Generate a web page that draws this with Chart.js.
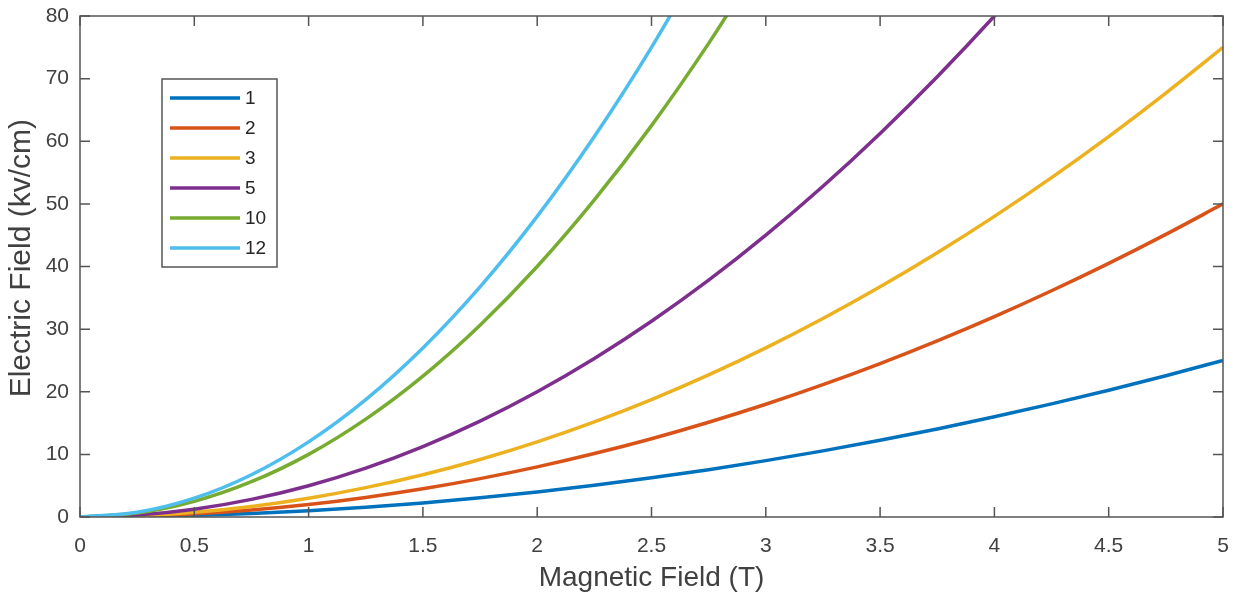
<!DOCTYPE html>
<html>
<head>
    <title>Electric Field vs Magnetic Field</title>
    <script src="https://cdn.jsdelivr.net/npm/chart.js"></script>
    <style>
        html, body { margin: 0; padding: 0; background: #fff; }
        #wrap { width: 1237px; height: 595px; }
    </style>
</head>
<body>

<div id="wrap">
    <canvas id="fieldChart" width="1237" height="595"></canvas>
</div>

<script>
    // Magnetic field (T), sampled every 0.25 T
    const fieldB = [0, 0.25, 0.5, 0.75, 1, 1.25, 1.5, 1.75, 2, 2.25, 2.5,
                    2.75, 3, 3.25, 3.5, 3.75, 4, 4.25, 4.5, 4.75, 5];

    // Electric field (kv/cm)
    const curve1  = [0, 0.06, 0.25, 0.56, 1, 1.56, 2.25, 3.06, 4, 5.06, 6.25,
                     7.56, 9, 10.56, 12.25, 14.06, 16, 18.06, 20.25, 22.56, 25];
    const curve2  = [0, 0.13, 0.5, 1.13, 2, 3.13, 4.5, 6.13, 8, 10.13, 12.5,
                     15.13, 18, 21.13, 24.5, 28.13, 32, 36.13, 40.5, 45.13, 50];
    const curve3  = [0, 0.19, 0.75, 1.69, 3, 4.69, 6.75, 9.19, 12, 15.19, 18.75,
                     22.69, 27, 31.69, 36.75, 42.19, 48, 54.19, 60.75, 67.69, 75];
    const curve5  = [0, 0.31, 1.25, 2.81, 5, 7.81, 11.25, 15.31, 20, 25.31, 31.25,
                     37.81, 45, 52.81, 61.25, 70.31, 80, 90.31];
    const curve10 = [0, 0.63, 2.5, 5.63, 10, 15.63, 22.5, 30.63, 40, 50.63, 62.5,
                     75.63, 90];
    const curve12 = [0, 0.75, 3, 6.75, 12, 18.75, 27, 36.75, 48, 60.75, 75,
                     90.75];

    const seriesLabels = ['1', '2', '3', '5', '10', '12'];
    const seriesValues = [curve1, curve2, curve3, curve5, curve10, curve12];
    const seriesColors = ['#0072BD', '#D95319', '#EDB120', '#7E2F8E', '#77AC30', '#4DBEEE'];

    const xTicksStep = 0.5;
    const yTicksStep = 10;

    const textColor = '#404040';
    const frameColor = '#555555';
    const fontFamily = '"Liberation Sans", Arial, sans-serif';

    // MATLAB style box with inward ticks on all four sides
    const boxPlugin = {
        id: 'matlabBox',
        afterDatasetsDraw(chart) {
            const {ctx, chartArea: a, scales: {x, y}} = chart;
            const len = 10;
            ctx.save();
            ctx.strokeStyle = frameColor;
            ctx.lineWidth = 1.5;
            ctx.strokeRect(a.left, a.top, a.right - a.left, a.bottom - a.top);
            ctx.beginPath();
            x.ticks.forEach(t => {
                const px = x.getPixelForValue(t.value);
                ctx.moveTo(px, a.bottom); ctx.lineTo(px, a.bottom - len);
                ctx.moveTo(px, a.top); ctx.lineTo(px, a.top + len);
            });
            y.ticks.forEach(t => {
                const py = y.getPixelForValue(t.value);
                ctx.moveTo(a.left, py); ctx.lineTo(a.left + len, py);
                ctx.moveTo(a.right, py); ctx.lineTo(a.right - len, py);
            });
            ctx.stroke();
            ctx.restore();
        },
        // legend box inside the axes, top left
        afterDraw(chart) {
            const {ctx} = chart;
            const left = 162, top = 79, w = 115, h = 188;
            ctx.save();
            ctx.fillStyle = '#fff';
            ctx.fillRect(left, top, w, h);
            ctx.strokeStyle = frameColor;
            ctx.lineWidth = 1.5;
            ctx.strokeRect(left, top, w, h);
            ctx.font = '19px ' + fontFamily;
            ctx.textBaseline = 'middle';
            chart.data.datasets.forEach((ds, i) => {
                const cy = top + 19 + i * 30;
                ctx.strokeStyle = ds.borderColor;
                ctx.lineWidth = 3.5;
                ctx.beginPath();
                ctx.moveTo(left + 8, cy);
                ctx.lineTo(left + 78, cy);
                ctx.stroke();
                ctx.fillStyle = '#262626';
                ctx.fillText(ds.label, left + 83, cy + 1);
            });
            ctx.restore();
        }
    };

    const datasets = seriesValues.map((vals, i) => ({
        label: seriesLabels[i],
        data: vals.map((v, j) => ({x: fieldB[j], y: v})),
        borderColor: seriesColors[i],
        backgroundColor: seriesColors[i],
        borderWidth: 3.5,
        pointRadius: 0,
        cubicInterpolationMode: 'monotone',
        clip: 0,
        order: -i
    }));

    new Chart(document.getElementById('fieldChart'), {
        type: 'line',
        data: {datasets: datasets},
        plugins: [boxPlugin],
        options: {
            responsive: false,
            animation: false,
            layout: {padding: {left: 0, top: 16, right: 14, bottom: 0}},
            plugins: {
                legend: {display: false},
                tooltip: {enabled: false}
            },
            scales: {
                x: {
                    type: 'linear',
                    min: 0,
                    max: 5,
                    grid: {display: false, drawTicks: false},
                    border: {display: false},
                    ticks: {
                        stepSize: xTicksStep,
                        padding: 17,
                        color: textColor,
                        maxRotation: 0,
                        font: {family: fontFamily, size: 21},
                        callback: v => String(Math.round(v * 10) / 10)
                    },
                    title: {
                        display: true,
                        text: 'Magnetic Field (T)',
                        color: textColor,
                        padding: {top: 0, bottom: 3},
                        font: {family: fontFamily, size: 28, lineHeight: 1}
                    },
                    afterFit(scale) {
                        scale.height = 78;
                        scale.paddingLeft = 0;
                        scale.paddingRight = 0;
                    }
                },
                y: {
                    min: 0,
                    max: 80,
                    grid: {display: false, drawTicks: false},
                    border: {display: false},
                    ticks: {
                        stepSize: yTicksStep,
                        padding: 11,
                        color: textColor,
                        font: {family: fontFamily, size: 21}
                    },
                    title: {
                        display: true,
                        // leading spaces nudge the label up a little, like the original
                        text: '  Electric Field (kv/cm)',
                        color: textColor,
                        padding: {top: 7, bottom: 0},
                        font: {family: fontFamily, size: 30, lineHeight: 1}
                    },
                    afterFit(scale) {
                        scale.width = 80;
                        scale.paddingTop = 0;
                        scale.paddingBottom = 0;
                    }
                }
            }
        }
    });
</script>
</body>
</html>
